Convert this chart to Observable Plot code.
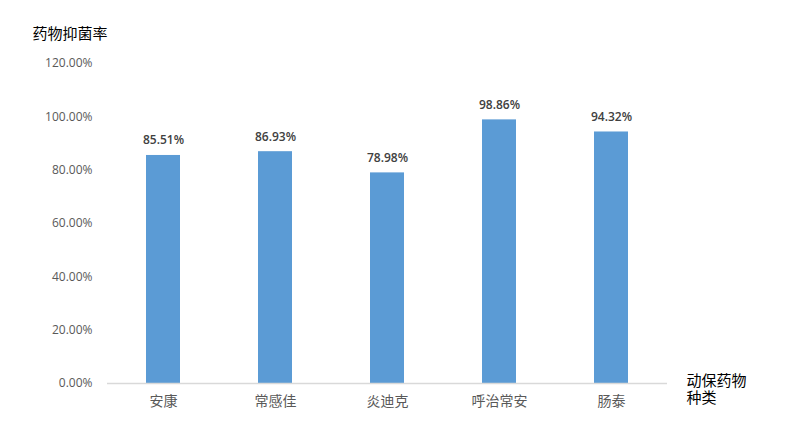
<!DOCTYPE html>
<html><head><meta charset="utf-8">
<script src="https://cdn.jsdelivr.net/npm/d3@7"></script>
<script src="https://cdn.jsdelivr.net/npm/@observablehq/plot@0.6"></script>
<style>
body{margin:0;background:#fff;}
svg{font-family:"Open Sans","Noto Sans CJK SC",sans-serif;}
</style></head>
<body><div id="chart"></div>
<script>
const categories = ["安康","常感佳","炎迪克","呼治常安","肠泰"];
const values = [0.8551, 0.8693, 0.7898, 0.9886, 0.9432];
const yTicks = [0, 0.2, 0.4, 0.6, 0.8, 1.0, 1.2];
const yTitle = "药物抑菌率";
const xTitle = "动保药物\n种类";

const data = categories.map((c, i) => ({cat: c, val: values[i]}));
const fmt = d => (d * 100).toFixed(2) + "%";

const chart = Plot.plot({
  width: 800, height: 433,
  marginLeft: 107, marginRight: 133, marginTop: 63, marginBottom: 50,
  style: {fontFamily: '"Open Sans","Noto Sans CJK SC",sans-serif', background: "#fff"},
  x: {domain: categories, paddingInner: 0.7, paddingOuter: 0.35, label: null},
  y: {domain: [0, 1.2], label: null},
  marks: [
    Plot.axisY({ticks: yTicks, tickFormat: fmt, tickSize: 0, tickPadding: 15, fontSize: 12, color: "#595959", label: null}),
    Plot.axisX({tickSize: 0, tickPadding: 13, fontSize: 14, color: "#595959", fontFamily: '"Noto Sans CJK SC",sans-serif', label: null}),
    Plot.barY(data, {x: "cat", y: "val", fill: "#5b9bd5"}),
    Plot.ruleY([0], {stroke: "#d9d9d9", strokeWidth: 1.5}),
    Plot.text(data, {x: "cat", y: "val", text: d => fmt(d.val), dy: -15, fontSize: 12, fill: "#404040", fontWeight: 600}),
    Plot.text([yTitle], {frameAnchor: "top-left", text: d => d, dx: -75, dy: -35, textAnchor: "start", fontSize: 15, fill: "#000", fontFamily: '"Noto Sans CJK SC",sans-serif'}),
    Plot.text([xTitle], {frameAnchor: "bottom-right", text: d => d, dx: 19, dy: -9.5, lineAnchor: "top", textAnchor: "start", lineHeight: 1.15, fontSize: 15, fill: "#000", fontFamily: '"Noto Sans CJK SC",sans-serif'})
  ]
});
document.getElementById("chart").append(chart);
</script></body></html>
